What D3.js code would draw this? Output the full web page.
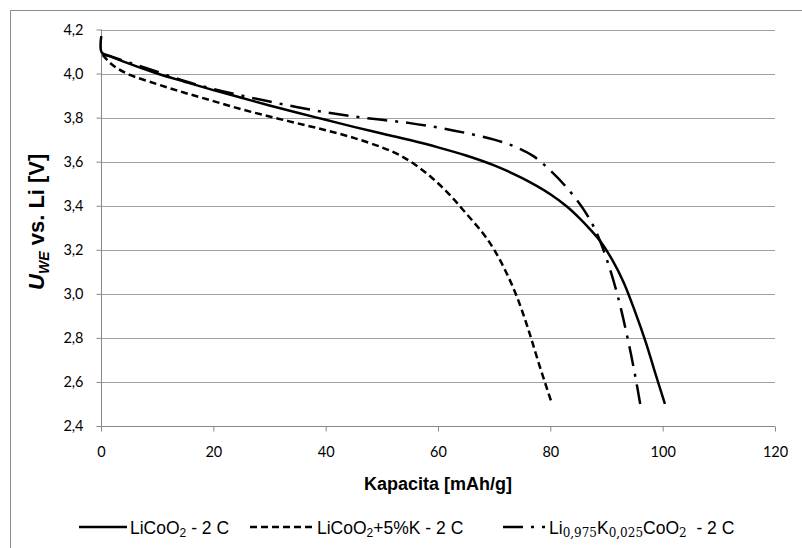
<!DOCTYPE html>
<html><head><meta charset="utf-8">
<script src="https://cdn.jsdelivr.net/npm/d3@7"></script>
<style>body{margin:0;background:#fff}</style>
</head><body><svg id="c" width="802" height="548"></svg>
<script>
// ---- data ----
const xTicks = [0, 20, 40, 60, 80, 100, 120];
const xTickLabels = ["0", "20", "40", "60", "80", "100", "120"];
const yTicks = [2.4, 2.6, 2.8, 3.0, 3.2, 3.4, 3.6, 3.8, 4.0, 4.2];
const yTickLabels = ["2,4", "2,6", "2,8", "3,0", "3,2", "3,4", "3,6", "3,8", "4,0", "4,2"];

// LiCoO2 - 2 C (solid)
const licoX = [0.05, 0.15, 2, 5, 10, 15, 20, 25, 30, 35, 40, 45, 50, 55, 60, 65, 70, 75, 80, 83, 85, 87, 89, 91, 93, 95, 97, 98.5, 100.4];
const licoY = [4.17, 4.095, 4.075, 4.045, 4.0, 3.962, 3.925, 3.89, 3.855, 3.822, 3.79, 3.758, 3.728, 3.698, 3.665, 3.628, 3.583, 3.525, 3.452, 3.395, 3.348, 3.295, 3.235, 3.155, 3.055, 2.925, 2.78, 2.655, 2.5];
// LiCoO2+5%K - 2 C (dashed)
const likX = [0.3, 2, 4.6, 10, 15, 20, 25, 30, 35, 40, 45, 50, 53, 56, 59, 62, 65, 68, 70, 72, 74, 76, 78, 80.3];
const likY = [4.085, 4.04, 4.0, 3.952, 3.912, 3.875, 3.838, 3.805, 3.774, 3.743, 3.708, 3.665, 3.632, 3.585, 3.525, 3.452, 3.365, 3.275, 3.2, 3.105, 2.99, 2.845, 2.68, 2.5];
// Li0,975K0,025CoO2 - 2 C (dash-dot)
const lkcX = [0.3, 5, 10, 15, 20, 25, 30, 35, 40, 45, 50, 55, 60, 65, 70, 74, 77, 80, 83, 86, 88, 90, 92, 94, 95.2, 96.0];
const lkcY = [4.09, 4.05, 4.008, 3.965, 3.93, 3.9, 3.873, 3.847, 3.824, 3.805, 3.79, 3.775, 3.755, 3.73, 3.7, 3.665, 3.625, 3.56, 3.48, 3.38, 3.29, 3.16, 2.99, 2.77, 2.615, 2.5];

const series = [
  {xs: licoX, ys: licoY, dash: null},
  {xs: likX, ys: likY, dash: "7,4"},
  {xs: lkcX, ys: lkcY, dash: "20,8,3,8"}
];

// ---- drawing ----
const svg = d3.select("#c");
const X0 = 101, X1 = 775, Y0 = 426, Y1 = 29.5;
const x = d3.scaleLinear().domain([0, 120]).range([X0, X1]);
const y = d3.scaleLinear().domain([2.4, 4.2]).range([Y0, Y1]);

// outer chart border
svg.append("rect").attr("x", 10.5).attr("y", 10.5).attr("width", 900).attr("height", 900)
  .attr("fill", "none").attr("stroke", "#8c8c8c").attr("stroke-width", 1);

// gridlines
svg.append("g").selectAll("line").data(yTicks.slice(1)).join("line")
  .attr("x1", X0).attr("x2", X1)
  .attr("y1", d => Math.round(y(d)) + 0.5).attr("y2", d => Math.round(y(d)) + 0.5)
  .attr("stroke", "#a0a0a0").attr("stroke-width", 1);

// axes
const yAxis = d3.axisLeft(y).tickValues(yTicks).tickSize(5).tickPadding(13)
  .tickFormat((d, i) => yTickLabels[i]);
const gy = svg.append("g").attr("transform", `translate(${X0 + 0.5},0)`).call(yAxis);
const xAxis = d3.axisBottom(x).tickValues(xTicks).tickSize(5).tickPadding(15)
  .tickFormat((d, i) => xTickLabels[i]);
const gx = svg.append("g").attr("transform", `translate(0,${Math.round(Y0) + 0.5})`).call(xAxis);
[gx, gy].forEach(g => {
  g.select(".domain").attr("stroke", "#888").attr("stroke-width", 1);
  g.selectAll(".tick line").attr("stroke", "#888");
  g.selectAll("text").attr("fill", "#000").style("font-family", "Lato, 'Open Sans', sans-serif").style("font-size", "14.5px");
});
gx.select(".domain").attr("d", `M${X0},0H${X1}`);
gy.select(".domain").attr("d", `M0,${Y0}V${Y1}`);

// lines
const line = d3.line().x(d => x(d[0])).y(d => y(d[1])).curve(d3.curveCatmullRom.alpha(0.5));
series.forEach(s => {
  const pts = s.xs.map((v, i) => [v, s.ys[i]]);
  svg.append("path").datum(pts).attr("d", line)
    .attr("fill", "none").attr("stroke", "#000").attr("stroke-width", 2.5)
    .attr("stroke-dasharray", s.dash);
});

// axis titles
const titleFont = "'Liberation Sans', Arial, sans-serif";
svg.append("text").attr("x", 438).attr("y", 490).attr("text-anchor", "middle")
  .style("font-family", titleFont).style("font-size", "18px").style("font-weight", "bold")
  .text("Kapacita [mAh/g]");

const yt = svg.append("text").attr("transform", `translate(44,${(Y0 + Y1) / 2 - 6}) rotate(-90)`)
  .attr("text-anchor", "middle")
  .style("font-family", titleFont).style("font-size", "22px").style("font-weight", "bold");
yt.append("tspan").style("font-style", "italic").text("U");
yt.append("tspan").style("font-style", "italic").style("font-size", "14px").attr("dy", 5).text("WE");
yt.append("tspan").attr("dy", -5).text(" vs. Li [V]");

// legend
const legY = 527;
const legFont = "'Liberation Sans', Arial, sans-serif";
const legItems = [
  {x1: 79, x2: 127, tx: 130, dash: null},
  {x1: 250, x2: 314, tx: 317, dash: "7,4"},
  {x1: 503, x2: 545, tx: 549, dash: "20,8,3,8"}
];
legItems.forEach(it => {
  svg.append("line").attr("x1", it.x1).attr("x2", it.x2).attr("y1", legY).attr("y2", legY)
    .attr("stroke", "#000").attr("stroke-width", 2.5).attr("stroke-dasharray", it.dash);
});
function legText(xp) {
  return svg.append("text").attr("x", xp).attr("y", legY + 7)
    .style("font-family", legFont).style("font-size", "17.5px").attr("fill", "#000");
}
let t = legText(legItems[0].tx);
t.append("tspan").text("LiCoO");
t.append("tspan").style("font-size", "12px").attr("dy", 3).text("2");
t.append("tspan").attr("dy", -3).text(" - 2 C");

t = legText(legItems[1].tx);
t.append("tspan").text("LiCoO");
t.append("tspan").style("font-size", "12px").attr("dy", 3).text("2");
t.append("tspan").attr("dy", -3).text("+5%K - 2 C");

t = legText(legItems[2].tx);
const subFont = "'DejaVu Serif', 'Liberation Serif', serif";
t.append("tspan").text("Li");
t.append("tspan").style("font-size", "12px").style("font-family", subFont).attr("dy", 3).text("0,975");
t.append("tspan").attr("dy", -3).text("K");
t.append("tspan").style("font-size", "12px").style("font-family", subFont).attr("dy", 3).text("0,025");
t.append("tspan").attr("dy", -3).text("CoO");
t.append("tspan").style("font-size", "12px").style("font-family", subFont).attr("dy", 3).text("2");
t.append("tspan").attr("dy", -3).text("\u00a0\u00a0- 2 C");
</script>
</body></html>
